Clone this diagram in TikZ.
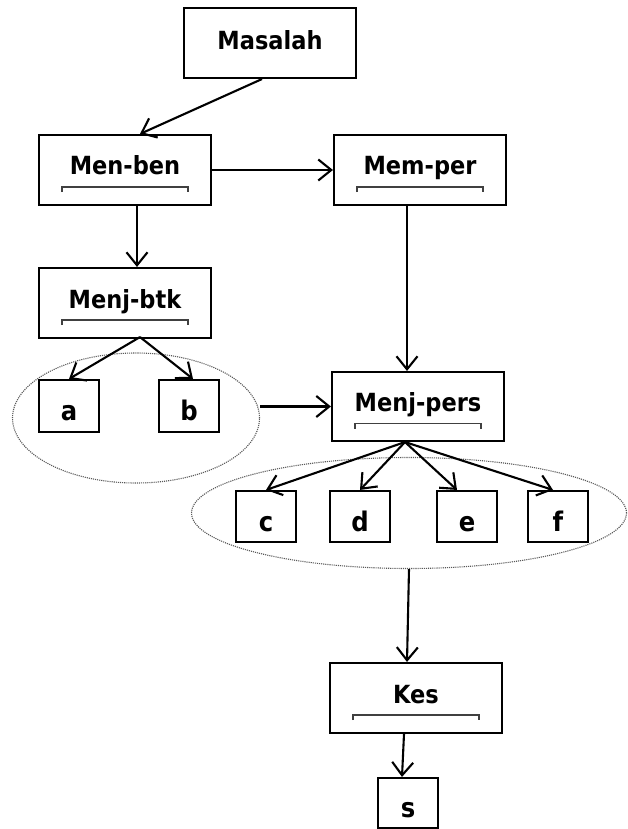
\documentclass[tikz,border=0pt]{standalone}
\usepackage{fontspec}
\setmainfont{DejaVu Sans Condensed}
\usetikzlibrary{shapes.geometric}
\usetikzlibrary{arrows.meta}
\usetikzlibrary{calc}
\tikzset{every picture/.style={line width=2.1pt},
  stagebox/.style={draw,minimum width=172pt,minimum height=70pt,inner sep=0pt,font=\fontsize{25}{30}\selectfont\bfseries},
  stagetext/.style={text height=18pt,text depth=8pt},
  letterbox/.style={draw,minimum width=60pt,minimum height=52pt,inner sep=0pt,text height=29pt,text depth=0pt,font=\fontsize{27}{30}\selectfont\bfseries},
  groupring/.style={draw=black!65,densely dotted,line width=1.1pt,ellipse,inner sep=0pt},
  bracketline/.style={draw=black!75,line width=1.2pt},
  flow/.style={-{Straight Barb[length=13pt,width=21pt]}}}

\begin{document}
\begin{tikzpicture}[x=1pt,y=-1pt]
\useasboundingbox (0,0) rectangle (627,829);
\node (masalah) at (270,43) [stagebox,text height=20pt,text depth=6pt] {Masalah};
\node (menben) at (125,170) [stagebox,stagetext] {Men-ben};
\node (memper) at (420,170) [stagebox,stagetext] {Mem-per};
\node (menjbtk) at (125,303) [stagebox,stagetext] {Menj-btk};
\node (menjpers) at (418,406.5) [stagebox,stagetext,minimum height=69pt] {Menj-pers};
\node (kes) at (416,698) [stagebox,stagetext] {Kes};

\node (grpab) at (136,418) [groupring,minimum width=247pt,minimum height=130pt] {};
\node (grpcf) at (409,513) [groupring,minimum width=435pt,minimum height=111pt] {};

\node (a) at (69,406) [letterbox] {a};
\node (b) at (189,406) [letterbox] {b};
\node (c) at (266,516.5) [letterbox,minimum height=51pt] {c};
\node (d) at (360,516.5) [letterbox,minimum height=51pt] {d};
\node (e) at (467,516.5) [letterbox,minimum height=51pt] {e};
\node (f) at (558,516.5) [letterbox,minimum height=51pt] {f};
\node (s) at (408,803) [letterbox,minimum height=50pt] {s};

\foreach \n in {menben,memper,menjbtk,menjpers,kes}
  \draw[bracketline] ([shift={(-63pt,-22pt)}]\n.center) -- ++(0pt,5pt) -- ++(126pt,0pt) -- ++(0pt,-5pt);

\draw [flow] ([xshift=-8pt]masalah.south) -- ([xshift=15pt]menben.north);
\draw [flow] (menben.east) -- (memper.west);
\draw [flow] ([xshift=12pt]menben.south) -- ([xshift=12pt]menjbtk.north);
\draw [flow] ([xshift=-13pt]memper.south) -- ([xshift=-11pt]menjpers.north);
\draw [flow] ([xshift=15pt,yshift=2pt]menjbtk.south) -- (a.north);
\draw [flow] ([xshift=15pt,yshift=2pt]menjbtk.south) -- ([xshift=4pt]b.north);
\draw [flow] (grpab.east |- menjpers.west) -- (menjpers.west);
\foreach \t/\dx in {c/0,d/0,e/-10,f/-5}
  \draw [flow] ([xshift=-13pt]menjpers.south) -- ([xshift=\dx pt]\t.north);
\draw [flow] (grpcf.south) -- ([xshift=-9pt]kes.north);
\draw [flow] ([xshift=-12pt]kes.south) -- ([xshift=-6pt]s.north);
\end{tikzpicture}
\end{document}
